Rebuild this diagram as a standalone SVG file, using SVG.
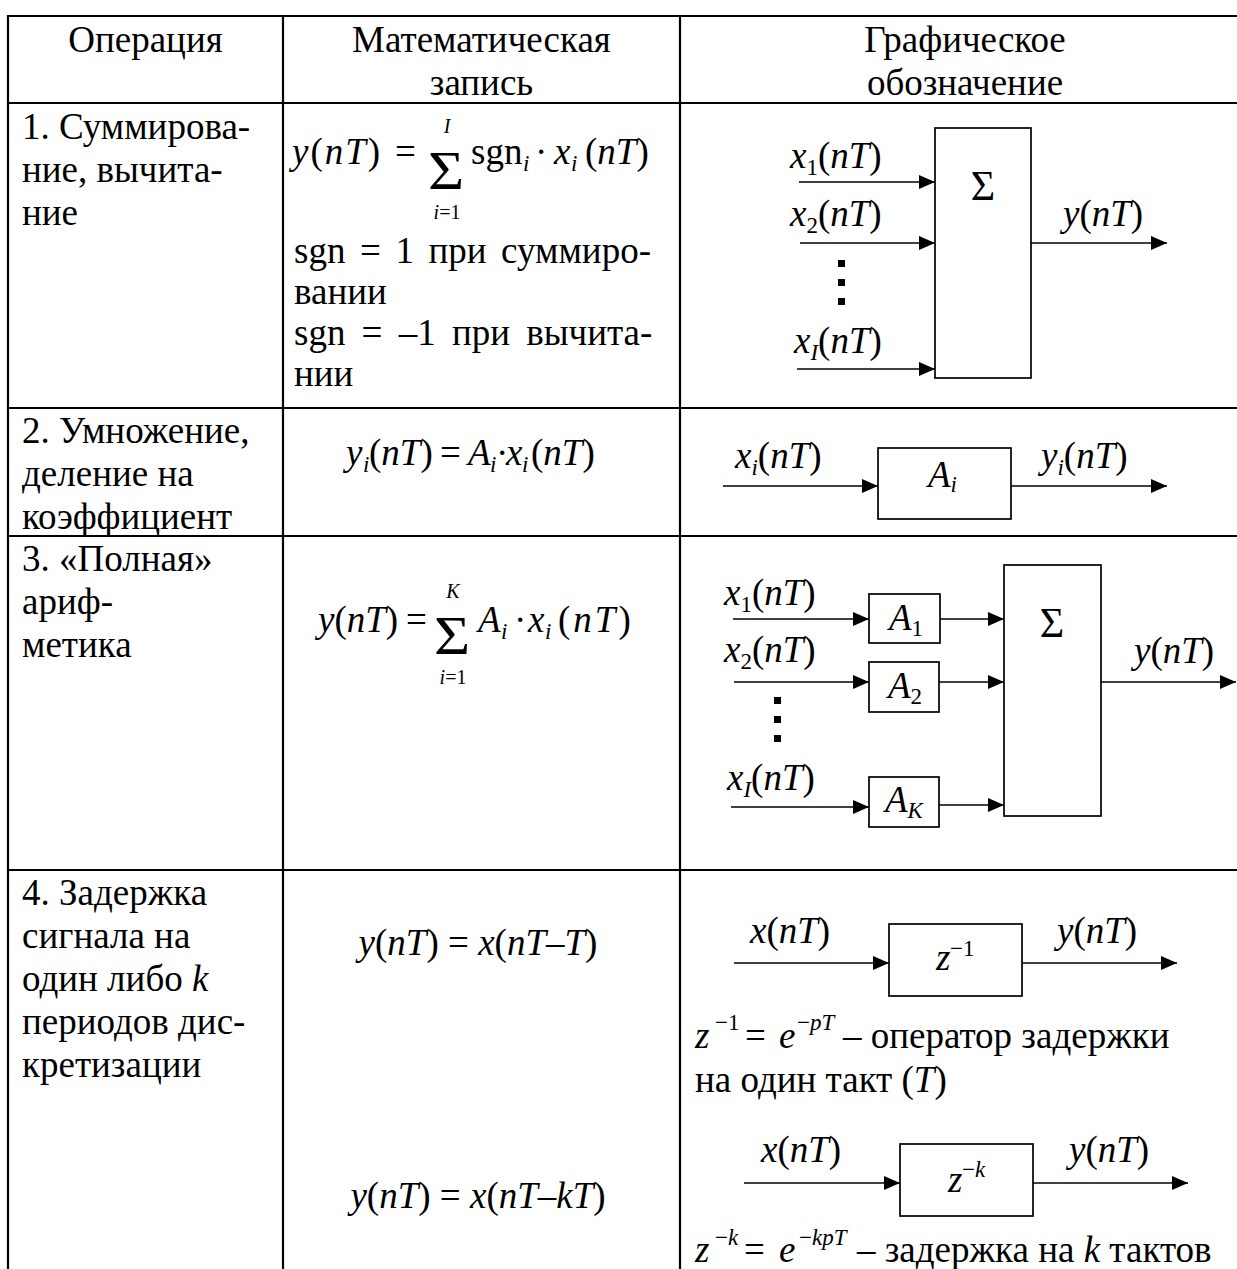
<svg xmlns="http://www.w3.org/2000/svg" width="1237" height="1269" viewBox="0 0 1237 1269">
  <defs>
    <style>
      .t { font-family: "Liberation Serif", "Times New Roman", serif; font-size: 37px; fill: #000; }
      .i { font-style: italic; }
      .s { font-size: 23px; }
      .lim { font-size: 20px; }
      .sym { font-family: "Liberation Serif", "Times New Roman", serif; fill: #000; }
      .grid { stroke: #000; stroke-width: 2.2; fill: none; }
      .box { fill: #fff; stroke: #000; stroke-width: 1.7; }
      .wire { stroke: #000; stroke-width: 1.7; fill: none; marker-end: url(#ah); }
      .dot { fill: #000; }
    </style>
    <marker id="ah" markerUnits="userSpaceOnUse" markerWidth="17" markerHeight="14" refX="16" refY="7" orient="auto">
      <path d="M0,0 L16,7 L0,14 z" fill="#000"/>
    </marker>
  </defs>
  <rect width="1237" height="1269" fill="#fff"/>

  <!-- table grid -->
  <g id="table">
    <path class="grid" d="M8,16 H1237 M8,103 H1237 M8,408 H1237 M8,536 H1237 M8,870 H1237"/>
    <path class="grid" d="M8,15 V1269 M283,15 V1269 M680,15 V1269"/>
  </g>

  <!-- header -->
  <g id="header">
    <text class="t" x="145.5" y="52" text-anchor="middle">Операция</text>
    <text class="t" x="481.5" y="52" text-anchor="middle">Математическая</text>
    <text class="t" x="481.5" y="95" text-anchor="middle">запись</text>
    <text class="t" x="965" y="52" text-anchor="middle">Графическое</text>
    <text class="t" x="965" y="95" text-anchor="middle">обозначение</text>
  </g>

  <!-- column 1: operation names -->
  <g id="operations">
    <text class="t" x="22" y="139">1. Суммирова-</text>
    <text class="t" x="22" y="182">ние, вычита-</text>
    <text class="t" x="22" y="225">ние</text>
    <text class="t" x="22" y="443">2. Умножение,</text>
    <text class="t" x="22" y="486">деление на</text>
    <text class="t" x="22" y="529">коэффициент</text>
    <text class="t" x="22" y="571">3. «Полная»</text>
    <text class="t" x="22" y="614">ариф-</text>
    <text class="t" x="22" y="657">метика</text>
    <text class="t" x="22" y="905">4. Задержка</text>
    <text class="t" x="22" y="948">сигнала на</text>
    <text class="t" x="22" y="991">один либо <tspan class="i">k</tspan></text>
    <text class="t" x="22" y="1034">периодов дис-</text>
    <text class="t" x="22" y="1077">кретизации</text>
  </g>

  <!-- column 2: formulas -->
  <g id="formula-sum">
    <text class="t" x="292" y="164" letter-spacing="2"><tspan class="i">y</tspan>(<tspan class="i">nT</tspan>)</text>
    <text class="t" x="395" y="164">=</text>
    <text class="sym" transform="translate(428,189) scale(1.15,1)" font-size="54">Σ</text>
    <text class="t lim i" x="447" y="133" text-anchor="middle">I</text>
    <text class="t lim" x="447" y="219" text-anchor="middle"><tspan class="i">i</tspan>=1</text>
    <text class="t" x="471" y="164">sgn</text>
    <text class="t s i" x="523" y="171">i</text>
    <text class="t" x="535" y="164">·</text>
    <text class="t i" x="554" y="164">x</text>
    <text class="t s i" x="571" y="171">i</text>
    <text class="t" x="585" y="164">(<tspan class="i">nT</tspan>)</text>
  </g>
  <g id="formula-sgn">
    <text class="t" y="263"><tspan x="294">sgn</tspan><tspan x="360">=</tspan><tspan x="395.4">1</tspan><tspan x="428.5">при</tspan><tspan x="501.1">суммиро-</tspan></text>
    <text class="t" x="294" y="304">вании</text>
    <text class="t" y="345"><tspan x="294">sgn</tspan><tspan x="361.6">=</tspan><tspan x="398.7">–1</tspan><tspan x="451.9">при</tspan><tspan x="526.2">вычита-</tspan></text>
    <text class="t" x="294" y="386">нии</text>
  </g>
  <g id="formula-mul">
    <text class="t i" x="346" y="465">y</text>
    <text class="t s i" x="363" y="472">i</text>
    <text class="t" x="369" y="465">(<tspan class="i">nT</tspan>)</text>
    <text class="t" x="440" y="465">=</text>
    <text class="t i" x="468" y="465">A</text>
    <text class="t s i" x="490" y="472">i</text>
    <text class="t" x="496" y="465">·</text>
    <text class="t i" x="506" y="465">x</text>
    <text class="t s i" x="522" y="472">i</text>
    <text class="t" x="531" y="465">(<tspan class="i">nT</tspan>)</text>
  </g>
  <g id="formula-full">
    <text class="t" x="318" y="632"><tspan class="i">y</tspan>(<tspan class="i">nT</tspan>)</text>
    <text class="t" x="406" y="632">=</text>
    <text class="sym" transform="translate(434,654) scale(1.15,1)" font-size="54">Σ</text>
    <text class="t lim i" x="453" y="598" text-anchor="middle">K</text>
    <text class="t lim" x="453" y="684" text-anchor="middle"><tspan class="i">i</tspan>=1</text>
    <text class="t i" x="478" y="632">A</text>
    <text class="t s i" x="501" y="639">i</text>
    <text class="t" x="514" y="632">·</text>
    <text class="t i" x="528" y="632">x</text>
    <text class="t s i" x="545" y="639">i</text>
    <text class="t" x="558" y="632" letter-spacing="3">(<tspan class="i">nT</tspan>)</text>
  </g>
  <g id="formula-delay">
    <text class="t" x="478" y="955" text-anchor="middle"><tspan class="i">y</tspan>(<tspan class="i">nT</tspan>) = <tspan class="i">x</tspan>(<tspan class="i">nT</tspan>–<tspan class="i">T</tspan>)</text>
    <text class="t" x="478" y="1208" text-anchor="middle"><tspan class="i">y</tspan>(<tspan class="i">nT</tspan>) = <tspan class="i">x</tspan>(<tspan class="i">nT</tspan>–<tspan class="i">kT</tspan>)</text>
  </g>

  <!-- column 3: block nodes -->
  <g id="adder-1">
    <rect class="box" x="935" y="128" width="96" height="250"/>
    <text class="sym" x="983" y="200" font-size="42" text-anchor="middle">Σ</text>
  </g>
  <g id="gain-i">
    <rect class="box" x="878" y="448" width="133" height="71"/>
    <text class="t i" x="928" y="487">A<tspan class="s" dy="5">i</tspan></text>
  </g>
  <g id="gain-1">
    <rect class="box" x="869" y="594" width="71" height="49"/>
    <text class="t i" x="889" y="630">A<tspan class="s" font-style="normal" dy="6">1</tspan></text>
  </g>
  <g id="gain-2">
    <rect class="box" x="869" y="662" width="70" height="50"/>
    <text class="t i" x="888" y="698">A<tspan class="s" font-style="normal" dy="6">2</tspan></text>
  </g>
  <g id="gain-k">
    <rect class="box" x="869" y="777" width="70" height="50"/>
    <text class="t i" x="885" y="812">A<tspan class="s" dy="6">K</tspan></text>
  </g>
  <g id="adder-3">
    <rect class="box" x="1004" y="565" width="97" height="251"/>
    <text class="sym" x="1052" y="637" font-size="42" text-anchor="middle">Σ</text>
  </g>
  <g id="delay-1">
    <rect class="box" x="889" y="924" width="133" height="72"/>
    <text class="t i" x="936" y="970" font-size="32">z</text>
    <text class="t s" x="950" y="956" font-size="20">−1</text>
  </g>
  <g id="delay-k">
    <rect class="box" x="900" y="1144" width="133" height="72"/>
    <text class="t i" x="948" y="1192" font-size="32">z</text>
    <text class="t s" x="962" y="1177" font-size="20">−<tspan class="i">k</tspan></text>
  </g>

  <!-- signal labels -->
  <g id="labels">
    <text class="t" x="790" y="168"><tspan class="i">x</tspan><tspan class="s" dy="7">1</tspan><tspan dy="-7">(</tspan><tspan class="i">nT</tspan>)</text>
    <text class="t" x="790" y="226"><tspan class="i">x</tspan><tspan class="s" dy="7">2</tspan><tspan dy="-7">(</tspan><tspan class="i">nT</tspan>)</text>
    <text class="t" x="794" y="353"><tspan class="i">x</tspan><tspan class="s i" dy="7">I</tspan><tspan dy="-7">(</tspan><tspan class="i">nT</tspan>)</text>
    <text class="t" x="1063" y="226"><tspan class="i">y</tspan>(<tspan class="i">nT</tspan>)</text>

    <text class="t" x="735" y="468"><tspan class="i">x</tspan><tspan class="s i" dy="7">i</tspan><tspan dy="-7">(</tspan><tspan class="i">nT</tspan>)</text>
    <text class="t" x="1041" y="468"><tspan class="i">y</tspan><tspan class="s i" dy="7">i</tspan><tspan dy="-7">(</tspan><tspan class="i">nT</tspan>)</text>

    <text class="t" x="724" y="605"><tspan class="i">x</tspan><tspan class="s" dy="7">1</tspan><tspan dy="-7">(</tspan><tspan class="i">nT</tspan>)</text>
    <text class="t" x="724" y="662"><tspan class="i">x</tspan><tspan class="s" dy="7">2</tspan><tspan dy="-7">(</tspan><tspan class="i">nT</tspan>)</text>
    <text class="t" x="727" y="790"><tspan class="i">x</tspan><tspan class="s i" dy="7">I</tspan><tspan dy="-7">(</tspan><tspan class="i">nT</tspan>)</text>
    <text class="t" x="1134" y="663"><tspan class="i">y</tspan>(<tspan class="i">nT</tspan>)</text>

    <text class="t" x="750" y="943"><tspan class="i">x</tspan>(<tspan class="i">nT</tspan>)</text>
    <text class="t" x="1057" y="943"><tspan class="i">y</tspan>(<tspan class="i">nT</tspan>)</text>
    <text class="t" x="761" y="1162"><tspan class="i">x</tspan>(<tspan class="i">nT</tspan>)</text>
    <text class="t" x="1069" y="1162"><tspan class="i">y</tspan>(<tspan class="i">nT</tspan>)</text>
  </g>

  <!-- ellipsis dots -->
  <g id="dots">
    <rect class="dot" x="838" y="260" width="7" height="7"/>
    <rect class="dot" x="838" y="279" width="7" height="7"/>
    <rect class="dot" x="838" y="298" width="7" height="7"/>
    <rect class="dot" x="774" y="697" width="7" height="7"/>
    <rect class="dot" x="774" y="716" width="7" height="7"/>
    <rect class="dot" x="774" y="735" width="7" height="7"/>
  </g>

  <!-- delay operator notes -->
  <g id="notes">
    <text class="t" x="695" y="1048"><tspan class="i">z</tspan></text>
    <text class="t s" x="715" y="1030">−1</text>
    <text class="t" x="745" y="1048">=</text>
    <text class="t i" x="779" y="1048">e</text>
    <text class="t s" x="797" y="1030">−<tspan class="i">pT</tspan></text>
    <text class="t" x="843" y="1048">– оператор задержки</text>
    <text class="t" x="695" y="1092">на один такт (<tspan class="i">T</tspan>)</text>

    <text class="t" x="695" y="1262"><tspan class="i">z</tspan></text>
    <text class="t s" x="715" y="1245">−<tspan class="i">k</tspan></text>
    <text class="t" x="744" y="1262">=</text>
    <text class="t i" x="779" y="1262">e</text>
    <text class="t s" x="799" y="1245">−<tspan class="i">kpT</tspan></text>
    <text class="t" x="857" y="1262">– задержка на <tspan class="i">k</tspan> тактов</text>
  </g>

  <!-- connectors -->
  <g id="connectors">
    <path class="wire" d="M799,182 H935"/>
    <path class="wire" d="M800,243 H935"/>
    <path class="wire" d="M797,369 H935"/>
    <path class="wire" d="M1031,243 H1167"/>

    <path class="wire" d="M723,486 H878"/>
    <path class="wire" d="M1011,486 H1167"/>

    <path class="wire" d="M733,619 H869"/>
    <path class="wire" d="M940,619 H1004"/>
    <path class="wire" d="M734,682 H869"/>
    <path class="wire" d="M939,682 H1004"/>
    <path class="wire" d="M731,807 H869"/>
    <path class="wire" d="M939,805 H1004"/>
    <path class="wire" d="M1101,682 H1236"/>

    <path class="wire" d="M734,963 H889"/>
    <path class="wire" d="M1022,963 H1177"/>
    <path class="wire" d="M744,1183 H900"/>
    <path class="wire" d="M1033,1183 H1188"/>
  </g>
</svg>
